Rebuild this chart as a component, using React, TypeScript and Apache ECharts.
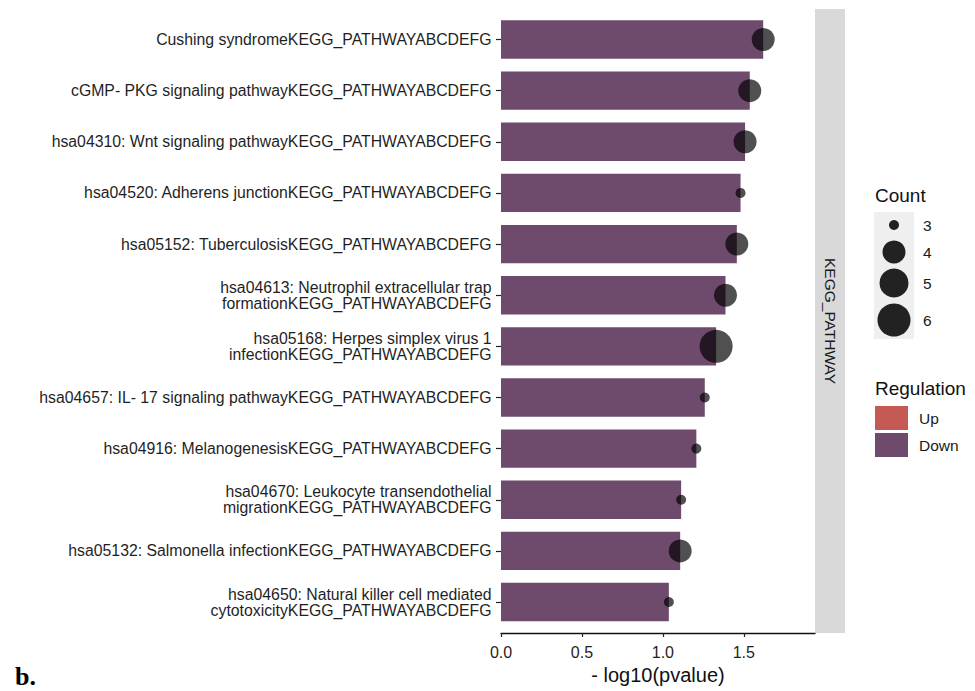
import React, { useEffect, useRef } from "react";
import * as echarts from "echarts";

const categories: string[] = [
  "Cushing syndromeKEGG_PATHWAYABCDEFG",
  "cGMP- PKG signaling pathwayKEGG_PATHWAYABCDEFG",
  "hsa04310: Wnt signaling pathwayKEGG_PATHWAYABCDEFG",
  "hsa04520: Adherens junctionKEGG_PATHWAYABCDEFG",
  "hsa05152: TuberculosisKEGG_PATHWAYABCDEFG",
  "hsa04613: Neutrophil extracellular trap\nformationKEGG_PATHWAYABCDEFG",
  "hsa05168: Herpes simplex virus 1\ninfectionKEGG_PATHWAYABCDEFG",
  "hsa04657: IL- 17 signaling pathwayKEGG_PATHWAYABCDEFG",
  "hsa04916: MelanogenesisKEGG_PATHWAYABCDEFG",
  "hsa04670: Leukocyte transendothelial\nmigrationKEGG_PATHWAYABCDEFG",
  "hsa05132: Salmonella infectionKEGG_PATHWAYABCDEFG",
  "hsa04650: Natural killer cell mediated\ncytotoxicityKEGG_PATHWAYABCDEFG",
];

const logP: number[] = [1.62, 1.537, 1.508, 1.48, 1.457, 1.387, 1.329, 1.259, 1.207, 1.113, 1.107, 1.037];
const counts: number[] = [4, 4, 4, 3, 4, 4, 6, 3, 3, 3, 4, 3];
const countLevels: number[] = [3, 4, 5, 6];
const regulationLevels: string[] = ["Up", "Down"];
const xTicks: number[] = [0, 0.5, 1, 1.5];
const facetLabel = "KEGG_PATHWAY";

// styles
const FONT = "'Liberation Sans', Arial, sans-serif";
const DOWN_COLOR = "#6e4a6c";
const UP_COLOR = "#c55a54";
const DOT_COLOR = "rgba(0,0,0,0.86)";
const DIAM: Record<number, number> = { 3: 10, 4: 23, 5: 29, 6: 33 };
const sizeOf = (c: number) => DIAM[c] ?? 10;

export default function App() {
  const ref = useRef<HTMLDivElement>(null);
  useEffect(() => {
    if (!ref.current) return;
    const chart = echarts.init(ref.current, undefined, { renderer: "svg" });

    const gridLeft = 501;
    const gridRight = 815;
    const panelTop = 9;
    const panelBottom = 633;
    const band = 51.14;
    const gridTop = 39.5 - band / 2;
    const gridHeight = band * categories.length;
    const gridBottomPx = gridTop + gridHeight;

    const legendCircleY = [225, 252, 283, 320];
    const graphic: any[] = [
      { type: "rect", shape: { x: gridRight, y: panelTop, width: 30, height: panelBottom - panelTop }, style: { fill: "#d9d9d9" } },
      {
        type: "text", x: 830, y: (panelTop + panelBottom) / 2, rotation: -Math.PI / 2,
        style: { text: facetLabel, align: "center", verticalAlign: "middle", fontSize: 15.5, fontFamily: FONT, fill: "#1a1a1a" },
      },
      { type: "text", x: 875, y: 195, style: { text: "Count", align: "left", verticalAlign: "middle", fontSize: 19, fontFamily: FONT, fill: "#111" } },
      { type: "rect", shape: { x: 874, y: 212, width: 40, height: 127 }, style: { fill: "#efefef" } },
      ...countLevels.map((c, i) => ({
        type: "circle", shape: { cx: 894, cy: legendCircleY[i], r: sizeOf(c) / 2 }, style: { fill: "#222" },
      })),
      ...countLevels.map((c, i) => ({
        type: "text", x: 923, y: legendCircleY[i], style: { text: String(c), align: "left", verticalAlign: "middle", fontSize: 15.5, fontFamily: FONT, fill: "#1a1a1a" },
      })),
      { type: "text", x: 875, y: 388, style: { text: "Regulation", align: "left", verticalAlign: "middle", fontSize: 19, fontFamily: FONT, fill: "#111" } },
      ...regulationLevels.map((r, i) => ({
        type: "rect", shape: { x: 875, y: 406 + i * 27, width: 33, height: 24 }, style: { fill: r === "Up" ? UP_COLOR : DOWN_COLOR },
      })),
      ...regulationLevels.map((r, i) => ({
        type: "text", x: 919, y: 418 + i * 27.5, style: { text: r, align: "left", verticalAlign: "middle", fontSize: 15.5, fontFamily: FONT, fill: "#1a1a1a" },
      })),
      { type: "text", x: 15, y: 689, style: { text: "b.", align: "left", verticalAlign: "bottom", fontSize: 26, fontWeight: "bold", fontFamily: "'Liberation Serif', 'Times New Roman', serif", fill: "#000" } },
    ];

    chart.setOption({
      animation: false,
      backgroundColor: "#fff",
      grid: { left: gridLeft, top: gridTop, width: gridRight - gridLeft, height: gridHeight, containLabel: false },
      xAxis: {
        type: "value",
        min: 0,
        max: 1.94,
        interval: 0.5,
        offset: panelBottom - gridBottomPx,
        splitLine: { show: false },
        axisLine: { show: true, lineStyle: { color: "#111", width: 1.3 } },
        axisTick: { show: true, length: 4, lineStyle: { color: "#222", width: 1.2 }, customValues: xTicks },
        axisLabel: {
          customValues: xTicks,
          formatter: (v: number) => v.toFixed(1),
          fontSize: 16, fontFamily: FONT, color: "#1f1f1f", margin: 11,
        },
        name: "- log10(pvalue)",
        nameLocation: "middle",
        nameGap: 24,
        nameTextStyle: { fontSize: 20, fontFamily: FONT, color: "#111" },
      },
      yAxis: {
        type: "category",
        data: categories,
        inverse: true,
        axisLine: { show: false },
        axisTick: { show: true, alignWithLabel: true, length: 5, lineStyle: { color: "#222", width: 1.2 } },
        axisLabel: { fontSize: 15.8, fontFamily: FONT, color: "#1f1f1f", lineHeight: 16, margin: 9.5, align: "right" },
        splitLine: { show: false },
      },
      series: [
        {
          type: "bar",
          data: logP,
          barWidth: "75%",
          itemStyle: { color: DOWN_COLOR },
          silent: true,
        },
        {
          type: "scatter",
          data: logP.map((v, i) => [v, i]),
          symbol: "circle",
          symbolSize: (_: any, p: any) => sizeOf(counts[p.dataIndex]),
          itemStyle: { color: DOT_COLOR },
          z: 3,
          silent: true,
        },
      ],
      graphic,
    });
    return () => chart.dispose();
  }, []);
  return <div ref={ref} style={{ position: "absolute", left: 0, top: 0, width: 975, height: 691 }} />;
}
